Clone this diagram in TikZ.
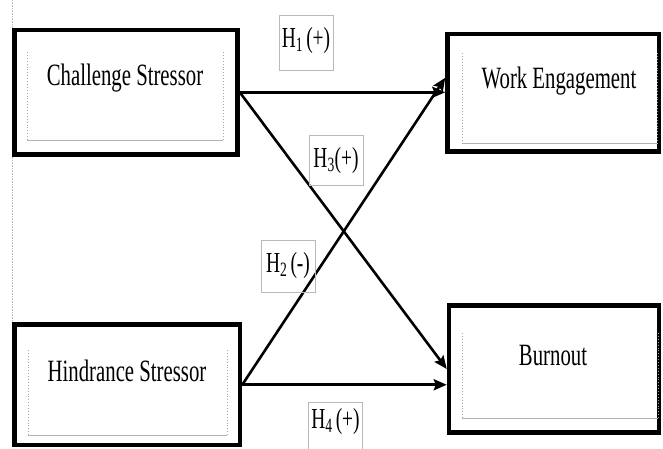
\documentclass[tikz,border=0pt]{standalone}
\usepackage{fontspec}
\setmainfont{Liberation Serif}
\usepackage{graphicx}
\usetikzlibrary{arrows.meta}
\newcommand\narrowtxt[1]{\scalebox{0.67}[1]{#1}}
\begin{document}
\begin{tikzpicture}[x=1pt,y=-1pt,
  outerbox/.style={draw,line width=4.5pt,inner sep=0pt},
  innerside/.style={draw=gray!70,line width=0.9pt,dotted},
  innerbot/.style={draw=gray!60,line width=0.9pt},
  boxtext/.style={anchor=base,inner sep=0pt,font=\fontsize{31}{36}\selectfont},
  hyplabel/.style={draw=gray!55,line width=0.7pt,inner sep=0pt,minimum width=54pt},
  hyptext/.style={anchor=base,inner sep=0pt,font=\fontsize{29}{34}\selectfont},
  path/.style={line width=2.6pt,-{Stealth[length=13pt,width=11pt,inset=2pt]}},
]
\useasboundingbox (0,0) rectangle (663,448);
% faint margin line
\draw[gray!50,line width=0.6pt,densely dotted] (12,0) -- (12,448);

% main boxes
\node[outerbox,minimum width=223pt,minimum height=124.5pt] (cs) at (126,92.25) {};
\node[outerbox,minimum width=211.5pt,minimum height=117.5pt] (we) at (553.25,92.75) {};
\node[outerbox,minimum width=225.5pt,minimum height=120.5pt] (hs) at (127.25,384.75) {};
\node[outerbox,minimum width=210pt,minimum height=127pt] (bo) at (554,369) {};

% inner frames
\draw[innerside] (27,52) -- (27,140) (223,52) -- (223,140);
\draw[innerbot] (27,140) -- (223,140);
\draw[innerside] (462,53) -- (462,143) (657,53) -- (657,143);
\draw[innerbot] (462,143) -- (657,143);
\draw[innerside] (28,350) -- (28,435) (227,350) -- (227,435);
\draw[innerbot] (28,435) -- (227,435);
\draw[innerside] (462,333) -- (462,418) (658,333) -- (658,418);
\draw[innerbot] (462,418) -- (658,418);

% box texts
\node[boxtext] (cst) at (125,85) {\narrowtxt{Challenge Stressor}};
\node[boxtext] (wet) at (559,88) {\narrowtxt{Work Engagement}};
\node[boxtext] (hst) at (127,381) {\narrowtxt{Hindrance Stressor}};
\node[boxtext] (bot) at (553,365) {\narrowtxt{Burnout}};

% connectors
\draw[path] (cs.east) -- (we.west |- cs.east);
\draw[path] (cs.east) -- (bo.west);
\draw[path] (hs.east) -- ([yshift=15pt]we.west);
\draw[path] (hs.east) -- (bo.west |- hs.east);

% hypothesis labels
\node[hyplabel,minimum height=55pt] (h1) at (306,42.5) {};
\node[hyptext] (h1t) at (306,47) {\narrowtxt{H\textsubscript{1}\,(+)}};
\node[hyplabel,minimum height=50pt] (h3) at (336,160) {};
\node[hyptext] (h3t) at (336,167) {\narrowtxt{H\textsubscript{3}(+)}};
\node[hyplabel,minimum height=52pt] (h2) at (288,266) {};
\node[hyptext] (h2t) at (288,272) {\narrowtxt{H\textsubscript{2}\,(-)}};
\node[hyplabel,minimum height=52pt] (h4) at (335.5,428) {};
\node[hyptext] (h4t) at (335.5,428) {\narrowtxt{H\textsubscript{4}\,(+)}};
\end{tikzpicture}
\end{document}
